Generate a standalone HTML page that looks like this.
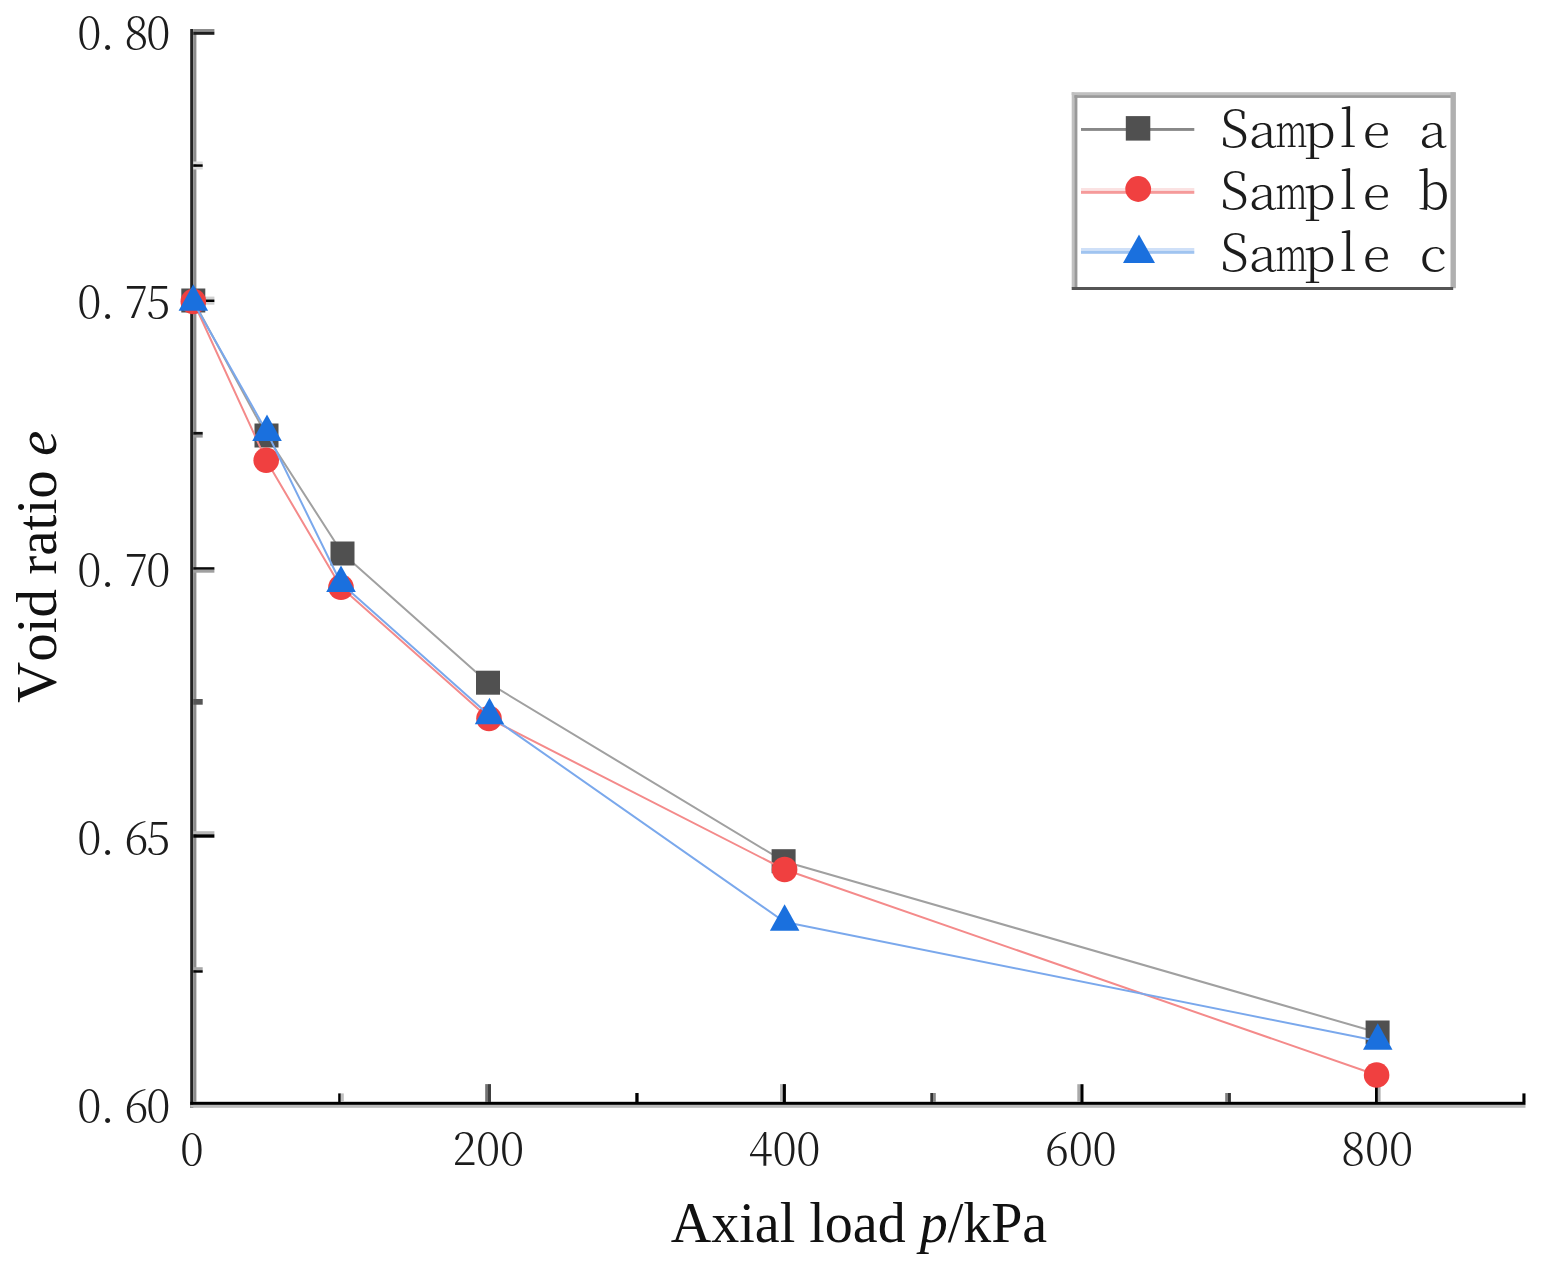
<!DOCTYPE html>
<html><head><meta charset="utf-8"><title>Void ratio vs axial load</title>
<style>html,body{margin:0;padding:0;background:#fff;overflow:hidden;width:1541px;height:1272px;}svg{display:block;font-kerning:none;filter:blur(0.5px);}</style></head>
<body><svg width="1541" height="1272" viewBox="0 0 1541 1272">
<rect width="1541" height="1272" fill="#fff"/>
<rect x="190.2" y="29" width="3.1" height="1079" fill="#232323"/>
<rect x="193.3" y="31.7" width="3.1" height="1070" fill="#8c8c8c"/>
<rect x="190.2" y="1101.8" width="1335.3" height="3.1" fill="#000"/>
<rect x="190.2" y="1104.9" width="1335.3" height="2.9" fill="#bbbbbb"/>
<rect x="193.3" y="29" width="21.1" height="2.7" fill="#8c8c8c"/>
<rect x="193.3" y="31.7" width="21.1" height="3.1" fill="#1e1e1e"/>
<rect x="193.3" y="161.5" width="9.4" height="2.8" fill="#dcdcdc"/>
<rect x="193.3" y="164.3" width="9.4" height="2.6" fill="#000"/>
<rect x="193.3" y="166.9" width="9.4" height="2.6" fill="#dcdcdc"/>
<rect x="193.3" y="296.6" width="21.1" height="2.9" fill="#d0d0d0"/>
<rect x="193.3" y="299.5" width="21.1" height="2.6" fill="#000"/>
<rect x="193.3" y="302.1" width="21.1" height="2.6" fill="#d0d0d0"/>
<rect x="193.3" y="431.9" width="9.4" height="2.9" fill="#111"/>
<rect x="193.3" y="434.8" width="9.4" height="2.8" fill="#9a9a9a"/>
<rect x="193.3" y="567.2" width="21.1" height="2.6" fill="#0a0a0a"/>
<rect x="193.3" y="569.8" width="21.1" height="2.9" fill="#a0a0a0"/>
<rect x="193.3" y="699" width="9.4" height="5.7" fill="#555"/>
<rect x="193.3" y="831.2" width="21.1" height="3.1" fill="#b8b8b8"/>
<rect x="193.3" y="834.3" width="21.1" height="3.4" fill="#000"/>
<rect x="193.3" y="967.2" width="9.4" height="3.0" fill="#a8a8a8"/>
<rect x="193.3" y="970.2" width="9.4" height="2.5" fill="#050505"/>
<rect x="338.2" y="1093.4" width="2.6" height="8.6" fill="#000"/>
<rect x="340.8" y="1093.4" width="3.0" height="8.6" fill="#c0c0c0"/>
<rect x="485.2" y="1084.1" width="2.8" height="17.9" fill="#737373"/>
<rect x="488.0" y="1084.1" width="3.0" height="17.9" fill="#404040"/>
<rect x="635.3" y="1093.0" width="3.3" height="9.0" fill="#000"/>
<rect x="780.0" y="1084.1" width="2.7" height="17.9" fill="#bbbbbb"/>
<rect x="782.7" y="1084.1" width="3.2" height="17.9" fill="#000"/>
<rect x="930.3" y="1093.0" width="2.7" height="9.0" fill="#333"/>
<rect x="933.0" y="1093.0" width="2.8" height="9.0" fill="#888"/>
<rect x="1077.3" y="1084.2" width="3.1" height="17.8" fill="#aaaaaa"/>
<rect x="1080.4" y="1084.2" width="3.1" height="17.8" fill="#000"/>
<rect x="1225.2" y="1093.0" width="2.7" height="9.0" fill="#808080"/>
<rect x="1227.9" y="1093.0" width="3.0" height="9.0" fill="#333"/>
<rect x="1375.0" y="1084.2" width="2.9" height="17.8" fill="#000"/>
<rect x="1377.9" y="1084.2" width="2.7" height="17.8" fill="#b0b0b0"/>
<rect x="1522.4" y="1093.4" width="3.1" height="8.6" fill="#000"/>
<text font-family="Noto Serif CJK SC, Liberation Serif, serif" font-weight="300" font-size="44" fill="#1c1c1c" text-anchor="middle" y="48.5"><tspan x="89.3">0</tspan><tspan x="107.7">.</tspan><tspan x="136.4">8</tspan><tspan x="158.3">0</tspan></text>
<text font-family="Noto Serif CJK SC, Liberation Serif, serif" font-weight="300" font-size="44" fill="#1c1c1c" text-anchor="middle" y="318.3"><tspan x="89.3">0</tspan><tspan x="107.7">.</tspan><tspan x="136.4">7</tspan><tspan x="158.3">5</tspan></text>
<text font-family="Noto Serif CJK SC, Liberation Serif, serif" font-weight="300" font-size="44" fill="#1c1c1c" text-anchor="middle" y="586.3"><tspan x="89.3">0</tspan><tspan x="107.7">.</tspan><tspan x="136.4">7</tspan><tspan x="158.3">0</tspan></text>
<text font-family="Noto Serif CJK SC, Liberation Serif, serif" font-weight="300" font-size="44" fill="#1c1c1c" text-anchor="middle" y="854.3"><tspan x="89.3">0</tspan><tspan x="107.7">.</tspan><tspan x="136.4">6</tspan><tspan x="158.3">5</tspan></text>
<text font-family="Noto Serif CJK SC, Liberation Serif, serif" font-weight="300" font-size="44" fill="#1c1c1c" text-anchor="middle" y="1121.7"><tspan x="89.3">0</tspan><tspan x="107.7">.</tspan><tspan x="136.4">6</tspan><tspan x="158.3">0</tspan></text>
<text font-family="Noto Serif CJK SC, Liberation Serif, serif" font-weight="300" font-size="44" fill="#1c1c1c" text-anchor="middle" y="1164.8"><tspan x="191.9">0</tspan></text>
<text font-family="Noto Serif CJK SC, Liberation Serif, serif" font-weight="300" font-size="44" fill="#1c1c1c" text-anchor="middle" y="1164.8"><tspan x="464.3">2</tspan><tspan x="488.2">0</tspan><tspan x="512.1">0</tspan></text>
<text font-family="Noto Serif CJK SC, Liberation Serif, serif" font-weight="300" font-size="44" fill="#1c1c1c" text-anchor="middle" y="1164.8"><tspan x="760.6">4</tspan><tspan x="784.5">0</tspan><tspan x="808.4">0</tspan></text>
<text font-family="Noto Serif CJK SC, Liberation Serif, serif" font-weight="300" font-size="44" fill="#1c1c1c" text-anchor="middle" y="1164.8"><tspan x="1056.9">6</tspan><tspan x="1080.8">0</tspan><tspan x="1104.7">0</tspan></text>
<text font-family="Noto Serif CJK SC, Liberation Serif, serif" font-weight="300" font-size="44" fill="#1c1c1c" text-anchor="middle" y="1164.8"><tspan x="1353.2">8</tspan><tspan x="1377.1">0</tspan><tspan x="1401.0">0</tspan></text>
<text font-family="Liberation Serif, serif" font-size="56" fill="#111" text-anchor="middle" x="859" y="1242">Axial load <tspan font-style="italic">p</tspan>/kPa</text>
<text font-family="Liberation Serif, serif" font-size="57" fill="#111" text-anchor="middle" transform="translate(56.4,566.8) rotate(-90)">Void ratio <tspan font-style="italic">e</tspan></text>
<polyline points="193.3,300.5 266.5,435.5 342.5,553.5 488.0,682.7 783.6,861.2 1377.6,1032.5" fill="none" stroke="#a0a0a0" stroke-width="2.0" stroke-linejoin="round"/>
<rect x="181.3" y="288.5" width="24" height="24" fill="#505050"/>
<rect x="254.5" y="423.5" width="24" height="24" fill="#505050"/>
<rect x="330.5" y="541.5" width="24" height="24" fill="#505050"/>
<rect x="476.0" y="670.7" width="24" height="24" fill="#505050"/>
<rect x="771.6" y="849.2" width="24" height="24" fill="#505050"/>
<rect x="1365.6" y="1020.5" width="24" height="24" fill="#505050"/>
<polyline points="193.3,301.5 266.2,460.3 341.0,587.3 489.0,718.5 784.6,869.5 1376.6,1075.0" fill="none" stroke="#f48a8a" stroke-width="2.0" stroke-linejoin="round"/>
<circle cx="193.3" cy="301.5" r="12.8" fill="#f04040"/>
<circle cx="266.2" cy="460.3" r="12.8" fill="#f04040"/>
<circle cx="341.0" cy="587.3" r="12.8" fill="#f04040"/>
<circle cx="489.0" cy="718.5" r="12.8" fill="#f04040"/>
<circle cx="784.6" cy="869.5" r="12.8" fill="#f04040"/>
<circle cx="1376.6" cy="1075.0" r="12.8" fill="#f04040"/>
<polyline points="193.3,301.9 267.0,432.2 341.0,583.3 489.5,715.4 784.6,922.0 1377.8,1041.0" fill="none" stroke="#7aa8ec" stroke-width="2.0" stroke-linejoin="round"/>
<polygon points="193.3,284.2 208.1,310.7 178.6,310.7" fill="#1a70de"/>
<polygon points="267.0,414.5 281.8,441.0 252.2,441.0" fill="#1a70de"/>
<polygon points="341.0,565.6 355.8,592.1 326.2,592.1" fill="#1a70de"/>
<polygon points="489.5,697.7 504.2,724.2 474.8,724.2" fill="#1a70de"/>
<polygon points="784.6,904.3 799.4,930.8 769.9,930.8" fill="#1a70de"/>
<polygon points="1377.8,1023.3 1392.5,1049.8 1363.0,1049.8" fill="#1a70de"/>
<rect x="1071.7" y="92.2" width="383" height="2.9" fill="#c0c0c0"/>
<rect x="1074.3" y="95.1" width="380" height="2.8" fill="#999999"/>
<rect x="1071.7" y="92.2" width="2.6" height="195.6" fill="#c0c0c0"/>
<rect x="1074.3" y="95.1" width="3.1" height="192.7" fill="#999999"/>
<rect x="1450.5" y="92.2" width="5.4" height="196" fill="#b0b0b0"/>
<rect x="1071.7" y="287" width="381.5" height="3" fill="#555"/>
<rect x="1081" y="128" width="113.3" height="2.9" fill="#888888"/>
<rect x="1125.8" y="116.1" width="24.5" height="24.5" fill="#505050"/>
<text font-family="Noto Serif CJK SC, Liberation Serif, serif" font-weight="300" font-size="51" fill="#1c1c1c" text-anchor="middle" x="1234.6" y="147.4">S</text><text font-family="Noto Serif CJK SC, Liberation Serif, serif" font-weight="300" font-size="51" fill="#1c1c1c" text-anchor="middle" transform="translate(1263.0,147.4) scale(1.0,0.88)">a</text><text font-family="Noto Serif CJK SC, Liberation Serif, serif" font-weight="300" font-size="51" fill="#1c1c1c" text-anchor="middle" transform="translate(1291.4,147.4) scale(0.65,0.88)">m</text><text font-family="Noto Serif CJK SC, Liberation Serif, serif" font-weight="300" font-size="51" fill="#1c1c1c" text-anchor="middle" transform="translate(1319.8,147.4) scale(1.0,0.88)">p</text><text font-family="Noto Serif CJK SC, Liberation Serif, serif" font-weight="300" font-size="51" fill="#1c1c1c" text-anchor="middle" x="1348.2" y="147.4">l</text><text font-family="Noto Serif CJK SC, Liberation Serif, serif" font-weight="300" font-size="51" fill="#1c1c1c" text-anchor="middle" transform="translate(1376.6,147.4) scale(1.0,0.88)">e</text><text font-family="Noto Serif CJK SC, Liberation Serif, serif" font-weight="300" font-size="51" fill="#1c1c1c" text-anchor="middle" transform="translate(1433.4,147.4) scale(1.0,0.88)">a</text>
<rect x="1081" y="188" width="113.3" height="2.9" fill="#fbe2e2"/>
<rect x="1081" y="190.9" width="113.3" height="2.9" fill="#f59a9a"/>
<circle cx="1138.2" cy="189.0" r="12.9" fill="#f04040"/>
<text font-family="Noto Serif CJK SC, Liberation Serif, serif" font-weight="300" font-size="51" fill="#1c1c1c" text-anchor="middle" x="1234.6" y="208.5">S</text><text font-family="Noto Serif CJK SC, Liberation Serif, serif" font-weight="300" font-size="51" fill="#1c1c1c" text-anchor="middle" transform="translate(1263.0,208.5) scale(1.0,0.88)">a</text><text font-family="Noto Serif CJK SC, Liberation Serif, serif" font-weight="300" font-size="51" fill="#1c1c1c" text-anchor="middle" transform="translate(1291.4,208.5) scale(0.65,0.88)">m</text><text font-family="Noto Serif CJK SC, Liberation Serif, serif" font-weight="300" font-size="51" fill="#1c1c1c" text-anchor="middle" transform="translate(1319.8,208.5) scale(1.0,0.88)">p</text><text font-family="Noto Serif CJK SC, Liberation Serif, serif" font-weight="300" font-size="51" fill="#1c1c1c" text-anchor="middle" x="1348.2" y="208.5">l</text><text font-family="Noto Serif CJK SC, Liberation Serif, serif" font-weight="300" font-size="51" fill="#1c1c1c" text-anchor="middle" transform="translate(1376.6,208.5) scale(1.0,0.88)">e</text><text font-family="Noto Serif CJK SC, Liberation Serif, serif" font-weight="300" font-size="51" fill="#1c1c1c" text-anchor="middle" x="1433.4" y="208.5">b</text>
<rect x="1081" y="248" width="113.3" height="2.9" fill="#cfe0f8"/>
<rect x="1081" y="250.9" width="113.3" height="2.9" fill="#a0c4f0"/>
<polygon points="1139.0,234.4 1155.0,263.0 1123.0,263.0" fill="#1a70de"/>
<text font-family="Noto Serif CJK SC, Liberation Serif, serif" font-weight="300" font-size="51" fill="#1c1c1c" text-anchor="middle" x="1234.6" y="270.8">S</text><text font-family="Noto Serif CJK SC, Liberation Serif, serif" font-weight="300" font-size="51" fill="#1c1c1c" text-anchor="middle" transform="translate(1263.0,270.8) scale(1.0,0.88)">a</text><text font-family="Noto Serif CJK SC, Liberation Serif, serif" font-weight="300" font-size="51" fill="#1c1c1c" text-anchor="middle" transform="translate(1291.4,270.8) scale(0.65,0.88)">m</text><text font-family="Noto Serif CJK SC, Liberation Serif, serif" font-weight="300" font-size="51" fill="#1c1c1c" text-anchor="middle" transform="translate(1319.8,270.8) scale(1.0,0.88)">p</text><text font-family="Noto Serif CJK SC, Liberation Serif, serif" font-weight="300" font-size="51" fill="#1c1c1c" text-anchor="middle" x="1348.2" y="270.8">l</text><text font-family="Noto Serif CJK SC, Liberation Serif, serif" font-weight="300" font-size="51" fill="#1c1c1c" text-anchor="middle" transform="translate(1376.6,270.8) scale(1.0,0.88)">e</text><text font-family="Noto Serif CJK SC, Liberation Serif, serif" font-weight="300" font-size="51" fill="#1c1c1c" text-anchor="middle" transform="translate(1433.4,270.8) scale(1.0,0.88)">c</text>
</svg></body></html>
